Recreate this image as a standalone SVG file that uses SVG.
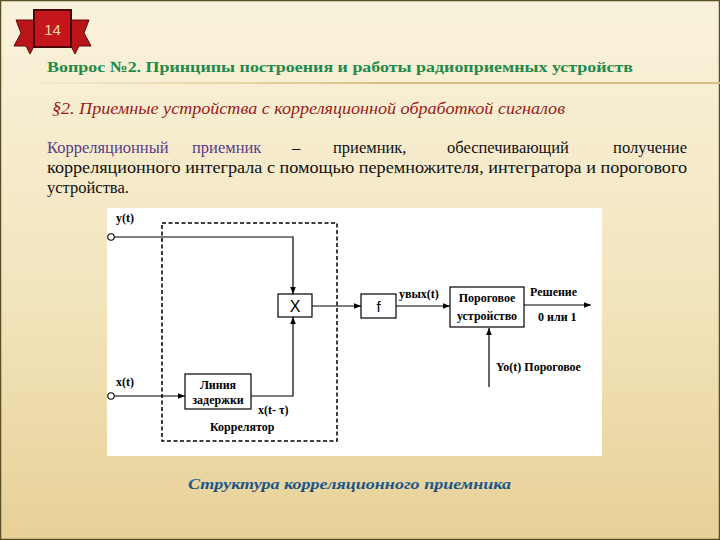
<svg xmlns="http://www.w3.org/2000/svg" width="720" height="540" viewBox="0 0 720 540">
<defs>
<linearGradient id="bg" x1="0" y1="0" x2="0" y2="1">
<stop offset="0" stop-color="#f9f2dc"/>
<stop offset="0.5" stop-color="#f3e6c0"/>
<stop offset="1" stop-color="#e8d198"/>
</linearGradient>
<linearGradient id="rule" x1="0" y1="0" x2="1" y2="0">
<stop offset="0" stop-color="#e8d6a8" stop-opacity="0.3"/>
<stop offset="0.5" stop-color="#d9bf85"/>
<stop offset="1" stop-color="#d9bf85"/>
</linearGradient>
<linearGradient id="cap" x1="0" y1="0" x2="0" y2="1">
<stop offset="0" stop-color="#2a6fb0"/>
<stop offset="1" stop-color="#16456f"/>
</linearGradient>
<marker id="ah" viewBox="0 0 10 10" refX="10" refY="5" markerWidth="7" markerHeight="7" markerUnits="userSpaceOnUse" orient="auto">
<path d="M0,1 L10,5 L0,9 z" fill="#000"/>
</marker>
<style>
.lbl{font-weight:bold;font-size:12px;fill:#000}
.box{fill:#fff;stroke:#000;stroke-width:1.2}
.wire{fill:none;stroke:#000;stroke-width:1.2}
.para{font-size:16.5px;fill:#111}
.pur{fill:#5a3c88}
</style>
</defs>
<rect x="0" y="0" width="720" height="540" fill="url(#bg)"/>
<rect x="0.5" y="0.5" width="719" height="539" fill="none" stroke="#5a5028" stroke-width="1.5"/>

<g id="badge">
<path d="M16,20 L34,20 L34,46 L30,54 L26,46 L14,46 L21,33 z" fill="#b8141a" stroke="#5a0a0a" stroke-width="1"/>
<path d="M89,20 L71,20 L71,46 L75,54 L79,46 L91,46 L84,33 z" fill="#b8141a" stroke="#5a0a0a" stroke-width="1"/>
<rect x="34" y="10" width="37" height="37" fill="#c4161c" stroke="#4a0606" stroke-width="2"/>
<text x="52.5" y="35" text-anchor="middle" font-family="Liberation Sans, Arial, sans-serif" font-size="15" fill="#f2d7a8">14</text>
</g>

<g id="header" font-family="Liberation Serif, DejaVu Serif, serif">
<text x="47" y="72" font-weight="bold" font-size="15.5" fill="#1f8a4c" textLength="586" lengthAdjust="spacingAndGlyphs">Вопрос №2. Принципы построения и работы радиоприемных устройств</text>
<rect x="40" y="82" width="680" height="2" fill="url(#rule)"/>
<text x="52" y="114" font-style="italic" font-size="16" fill="#9a1a1a" textLength="513" lengthAdjust="spacingAndGlyphs">§2. Приемные устройства с корреляционной обработкой сигналов</text>
</g>

<g id="paragraph" font-family="Liberation Serif, DejaVu Serif, serif">
<text x="47" y="153" class="para pur">Корреляционный</text>
<text x="192" y="153" class="para pur">приемник</text>
<text x="292" y="153" class="para">–</text>
<text x="333" y="153" class="para">приемник,</text>
<text x="447" y="153" class="para">обеспечивающий</text>
<text x="687" y="153" class="para" text-anchor="end">получение</text>
<text x="47" y="173" class="para" textLength="640" lengthAdjust="spacingAndGlyphs">корреляционного интеграла с помощью перемножителя, интегратора и порогового</text>
<text x="47" y="193" class="para">устройства.</text>
</g>

<rect x="107" y="208" width="495" height="248" fill="#ffffff"/>

<g id="correlator-frame" font-family="Liberation Serif, DejaVu Serif, serif">
<rect x="162" y="223" width="175" height="218" fill="none" stroke="#000" stroke-width="1.5" stroke-dasharray="4,2.5"/>
<text x="210" y="431" class="lbl">Коррелятор</text>
</g>

<g id="connectors">
<circle cx="111" cy="237" r="3.2" fill="#fff" stroke="#000" stroke-width="1.1"/>
<path class="wire" d="M114.2,237 H293 V294" marker-end="url(#ah)"/>
<circle cx="111" cy="396" r="3.2" fill="#fff" stroke="#000" stroke-width="1.1"/>
<path class="wire" d="M114.2,396 H185" marker-end="url(#ah)"/>
<path class="wire" d="M251,396 H293 V317" marker-end="url(#ah)"/>
<path class="wire" d="M312,306 H361" marker-end="url(#ah)"/>
<path class="wire" d="M396,306 H450" marker-end="url(#ah)"/>
<path class="wire" d="M524,305 H591" marker-end="url(#ah)"/>
<path class="wire" d="M489,387 V328" marker-end="url(#ah)"/>
</g>

<g id="labels" font-family="Liberation Serif, DejaVu Serif, serif">
<text x="116" y="222" class="lbl">y(t)</text>
<text x="116" y="386" class="lbl">x(t)</text>
<text x="258" y="414" class="lbl">x(t- τ)</text>
<text x="399" y="298" class="lbl" font-size="11">yвых(t)</text>
<text x="530" y="296" class="lbl">Решение</text>
<text x="538" y="321" class="lbl">0 или 1</text>
<text x="496" y="371" class="lbl">Yo(t) Пороговое</text>
</g>

<g id="node-multiplier">
<rect x="278" y="294" width="34" height="23" class="box"/>
<text x="295" y="312" text-anchor="middle" font-family="Liberation Sans, Arial, sans-serif" font-size="16" fill="#000">X</text>
</g>

<g id="node-integrator">
<rect x="361" y="294" width="35" height="24" class="box"/>
<text x="378.5" y="312" text-anchor="middle" font-family="Liberation Sans, Arial, sans-serif" font-size="15" fill="#000">f</text>
</g>

<g id="node-threshold" font-family="Liberation Serif, DejaVu Serif, serif">
<rect x="450" y="287" width="74" height="40" class="box"/>
<text x="487" y="302" text-anchor="middle" class="lbl">Пороговое</text>
<text x="487" y="320" text-anchor="middle" class="lbl">устройство</text>
</g>

<g id="node-delay" font-family="Liberation Serif, DejaVu Serif, serif">
<rect x="185" y="374" width="66" height="35" class="box"/>
<text x="218" y="389" text-anchor="middle" class="lbl">Линия</text>
<text x="218" y="404" text-anchor="middle" class="lbl">задержки</text>
</g>

<g id="caption">
<text x="188" y="489" font-family="Liberation Serif, DejaVu Serif, serif" font-style="italic" font-weight="bold" font-size="15" fill="url(#cap)" textLength="323" lengthAdjust="spacingAndGlyphs">Структура корреляционного приемника</text>
</g>
</svg>
